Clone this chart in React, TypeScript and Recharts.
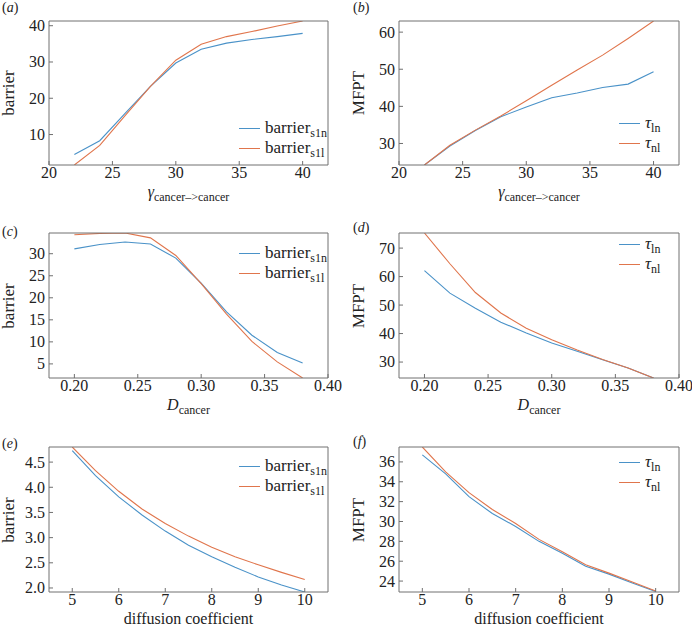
import React from 'react';
import { LineChart, Line, XAxis, YAxis } from 'recharts';

// (a)/(b) — gamma sweep
const gammaX = [22, 24, 26, 28, 30, 32, 34, 36, 38, 40];
const barrierS1nA = [4.5, 8.3, 15.8, 23.3, 29.7, 33.5, 35.2, 36.2, 37.0, 37.9];
const barrierS11A = [1.6, 7.0, 15.2, 23.3, 30.5, 34.9, 37.0, 38.4, 39.9, 41.3];
const tauLnB = [24.2, 29.3, 33.5, 37.2, 39.8, 42.3, 43.6, 45.1, 46.0, 49.3];
const tauNlB = [24.2, 29.5, 33.6, 37.4, 41.5, 45.7, 49.8, 53.8, 58.3, 63.0];

// (c)/(d) — D_cancer sweep
const dX = [0.2, 0.22, 0.24, 0.26, 0.28, 0.3, 0.32, 0.34, 0.36, 0.38];
const barrierS1nC = [31.1, 32.1, 32.65, 32.2, 29.0, 23.3, 16.8, 11.5, 7.6, 5.2];
const barrierS11C = [34.3, 34.6, 34.7, 33.6, 29.6, 23.2, 16.3, 10.1, 5.45, 1.8];
const tauLnD = [62.1, 54.2, 48.9, 44.0, 40.2, 36.7, 33.8, 30.8, 27.9, 24.4];
const tauNlD = [75.3, 64.5, 54.4, 47.2, 41.9, 37.8, 34.2, 30.9, 27.9, 24.4];

// (e)/(f) — diffusion coefficient sweep
const diffX = [5, 5.5, 6, 6.5, 7, 7.5, 8, 8.5, 9, 9.5, 10];
const barrierS1nE = [4.73, 4.23, 3.81, 3.45, 3.13, 2.85, 2.62, 2.41, 2.22, 2.06, 1.92];
const barrierS11E = [4.8, 4.33, 3.92, 3.57, 3.28, 3.03, 2.81, 2.62, 2.46, 2.31, 2.17];
const tauLnF = [36.7, 34.8, 32.5, 30.8, 29.5, 28.0, 26.8, 25.5, 24.7, 23.8, 22.95];
const tauNlF = [37.5, 35.0, 32.9, 31.2, 29.8, 28.2, 26.95, 25.65, 24.8, 23.9, 23.0];

// tick labels
const gammaTicks = [20, 25, 30, 35, 40];
const dTicks = [0.2, 0.25, 0.3, 0.35, 0.4];
const diffTicks = [5, 6, 7, 8, 9, 10];
const yTicksA = [10, 20, 30, 40];
const yTicksB = [30, 40, 50, 60];
const yTicksC = [5, 10, 15, 20, 25, 30];
const yTicksD = [30, 40, 50, 60, 70];
const yTicksE = [2.0, 2.5, 3.0, 3.5, 4.0, 4.5];
const yTicksF = [24, 26, 28, 30, 32, 34, 36];

const BLUE = '#4a92c8';
const ORANGE = '#e0754c';
const FRAME = '#707070';
const FONT = '"Liberation Serif", "DejaVu Serif", serif';
const FS = 17;

const zip = (xs: number[], a: number[], b: number[]) =>
  xs.map((x, i) => ({ x, a: a[i], b: b[i] }));

type PanelProps = {
  letter: string;
  rect: { x: number; y: number; w: number; h: number };
  data: { x: number; a: number; b: number }[];
  xDomain: [number, number];
  xTicks: number[];
  xFmt?: (v: number) => string;
  yDomain: [number, number];
  yTicks: number[];
  yFmt?: (v: number) => string;
  yLabel: string;
  xLabel: React.ReactNode;
  legend: [React.ReactNode, React.ReactNode];
  legendPos: { x: number; y: number };
  labelPos: { x: number; y: number };
};

const plain = (v: number) => String(v);

const xTick = (fmt: (v: number) => string) => (props: any) => (
  <text
    x={props.x}
    y={props.y}
    dy="0.7em"
    textAnchor="middle"
    fill="#222"
    fontSize={16}
    fontFamily={FONT}
    style={{ fontFamily: FONT }}
  >
    {fmt(props.payload.value)}
  </text>
);
const yTick = (fmt: (v: number) => string) => (props: any) => (
  <text
    x={props.x}
    y={props.y}
    dy="0.34em"
    textAnchor="end"
    fill="#222"
    fontSize={16}
    fontFamily={FONT}
    style={{ fontFamily: FONT }}
  >
    {fmt(props.payload.value)}
  </text>
);

const Panel = (p: PanelProps) => {
  const { rect } = p;
  const W = rect.w + 65;
  const H = rect.h + 35;
  return (
    <>
      <div style={{ position: 'absolute', left: rect.x - 45, top: rect.y - 5 }}>
        <LineChart width={W} height={H} data={p.data} margin={{ top: 4, right: 19, bottom: 0, left: 1 }}>
          <XAxis
            dataKey="x"
            type="number"
            domain={p.xDomain}
            ticks={p.xTicks}
            interval={0}
            allowDataOverflow
            height={30}
            stroke={FRAME}
            tickSize={-4}
            tickMargin={6}
            tick={xTick(p.xFmt || plain)}
          />
          <XAxis
            xAxisId="top"
            orientation="top"
            dataKey="x"
            type="number"
            domain={p.xDomain}
            ticks={p.xTicks}
            interval={0}
            allowDataOverflow
            height={1}
            stroke={FRAME}
            tickSize={4}
            tick={false}
          />
          <YAxis
            type="number"
            domain={p.yDomain}
            ticks={p.yTicks}
            interval={0}
            allowDataOverflow
            width={44}
            stroke={FRAME}
            tickSize={-4}
            tickMargin={8}
            tick={yTick(p.yFmt || plain)}
          />
          <YAxis
            yAxisId="right"
            orientation="right"
            type="number"
            domain={p.yDomain}
            ticks={p.yTicks}
            interval={0}
            allowDataOverflow
            width={1}
            stroke={FRAME}
            tickSize={4}
            tick={false}
          />
          <Line dataKey="a" stroke={BLUE} strokeWidth={1.1} dot={false} isAnimationActive={false} />
          <Line dataKey="b" stroke={ORANGE} strokeWidth={1.1} dot={false} isAnimationActive={false} />
        </LineChart>
      </div>
      {/* panel letter */}
      <div style={{ position: 'absolute', left: p.labelPos.x, top: p.labelPos.y, fontFamily: FONT, fontSize: 14, color: '#222' }}>
        (<i>{p.letter}</i>)
      </div>
      {/* y label */}
      <div
        style={{
          position: 'absolute',
          left: rect.x - 40,
          top: rect.y + rect.h / 2,
          transform: 'translate(-50%, -50%) rotate(-90deg)',
          fontFamily: FONT,
          fontSize: FS,
          color: '#222',
          whiteSpace: 'nowrap',
        }}
      >
        {p.yLabel}
      </div>
      {/* x label */}
      <div
        style={{
          position: 'absolute',
          left: rect.x + rect.w / 2,
          top: rect.y + rect.h + 27,
          transform: 'translate(-50%, -50%)',
          fontFamily: FONT,
          fontSize: 16,
          lineHeight: '14px',
          color: '#222',
          whiteSpace: 'nowrap',
        }}
      >
        {p.xLabel}
      </div>
      {/* legend */}
      {[BLUE, ORANGE].map((c, i) => (
        <div
          key={c}
          style={{
            position: 'absolute',
            left: p.legendPos.x,
            top: p.legendPos.y + i * 20,
            transform: 'translateY(-50%)',
            display: 'flex',
            alignItems: 'center',
            fontFamily: FONT,
            fontSize: FS,
            color: '#222',
            whiteSpace: 'nowrap',
          }}
        >
          <span style={{ display: 'inline-block', width: 21, height: 0, borderTop: `1.4px solid ${c}`, marginRight: 5 }} />
          <span>{p.legend[i]}</span>
        </div>
      ))}
    </>
  );
};

const Sub = ({ base, sub, italic }: { base: string; sub: string; italic?: boolean }) => (
  <span>
    {italic ? <i>{base}</i> : base}
    <span style={{ fontSize: 12, position: 'relative', top: 4 }}>{sub}</span>
  </span>
);

const barrierLegend: [React.ReactNode, React.ReactNode] = [
  <Sub base="barrier" sub="s1n" />,
  <Sub base="barrier" sub="s1l" />,
];
const tauLegend: [React.ReactNode, React.ReactNode] = [
  <Sub base="τ" sub="ln" italic />,
  <Sub base="τ" sub="nl" italic />,
];
const gammaLabel = <Sub base="γ" sub="cancer–>cancer" italic />;
const dLabel = <Sub base="D" sub="cancer" italic />;

const fmt2 = (v: number) => v.toFixed(2);
const fmt1 = (v: number) => v.toFixed(1);

export default function App() {
  return (
    <div style={{ position: 'absolute', left: 0, top: 0, width: 692, height: 626, background: '#fff', overflow: 'hidden' }}>
      <Panel
        letter="a"
        rect={{ x: 49, y: 21, w: 279, h: 144 }}
        data={zip(gammaX, barrierS1nA, barrierS11A)}
        xDomain={[20, 42]}
        xTicks={gammaTicks}
        yDomain={[1.6, 41.3]}
        yTicks={yTicksA}
        yLabel="barrier"
        xLabel={gammaLabel}
        legend={barrierLegend}
        legendPos={{ x: 239, y: 128 }}
        labelPos={{ x: 2, y: 0 }}
      />
      <Panel
        letter="b"
        rect={{ x: 399, y: 21, w: 280, h: 144 }}
        data={zip(gammaX, tauLnB, tauNlB)}
        xDomain={[20, 42]}
        xTicks={gammaTicks}
        yDomain={[24.2, 63]}
        yTicks={yTicksB}
        yLabel="MFPT"
        xLabel={gammaLabel}
        legend={tauLegend}
        legendPos={{ x: 619, y: 123 }}
        labelPos={{ x: 353, y: 0 }}
      />
      <Panel
        letter="c"
        rect={{ x: 49, y: 233, w: 279, h: 145 }}
        data={zip(dX, barrierS1nC, barrierS11C)}
        xDomain={[0.18, 0.4]}
        xTicks={dTicks}
        xFmt={fmt2}
        yDomain={[1.8, 34.7]}
        yTicks={yTicksC}
        yLabel="barrier"
        xLabel={dLabel}
        legend={barrierLegend}
        legendPos={{ x: 239, y: 253 }}
        labelPos={{ x: 2, y: 224 }}
      />
      <Panel
        letter="d"
        rect={{ x: 399, y: 233, w: 280, h: 145 }}
        data={zip(dX, tauLnD, tauNlD)}
        xDomain={[0.18, 0.4]}
        xTicks={dTicks}
        xFmt={fmt2}
        yDomain={[24.4, 75.3]}
        yTicks={yTicksD}
        yLabel="MFPT"
        xLabel={dLabel}
        legend={tauLegend}
        legendPos={{ x: 619, y: 244 }}
        labelPos={{ x: 353, y: 220 }}
      />
      <Panel
        letter="e"
        rect={{ x: 49, y: 447, w: 279, h: 145 }}
        data={zip(diffX, barrierS1nE, barrierS11E)}
        xDomain={[4.5, 10.5]}
        xTicks={diffTicks}
        yDomain={[1.92, 4.8]}
        yTicks={yTicksE}
        yFmt={fmt1}
        yLabel="barrier"
        xLabel="diffusion coefficient"
        legend={barrierLegend}
        legendPos={{ x: 239, y: 466 }}
        labelPos={{ x: 2, y: 436 }}
      />
      <Panel
        letter="f"
        rect={{ x: 399, y: 447, w: 280, h: 145 }}
        data={zip(diffX, tauLnF, tauNlF)}
        xDomain={[4.5, 10.5]}
        xTicks={diffTicks}
        yDomain={[22.9, 37.5]}
        yTicks={yTicksF}
        yLabel="MFPT"
        xLabel="diffusion coefficient"
        legend={tauLegend}
        legendPos={{ x: 619, y: 462 }}
        labelPos={{ x: 353, y: 434 }}
      />
    </div>
  );
}
